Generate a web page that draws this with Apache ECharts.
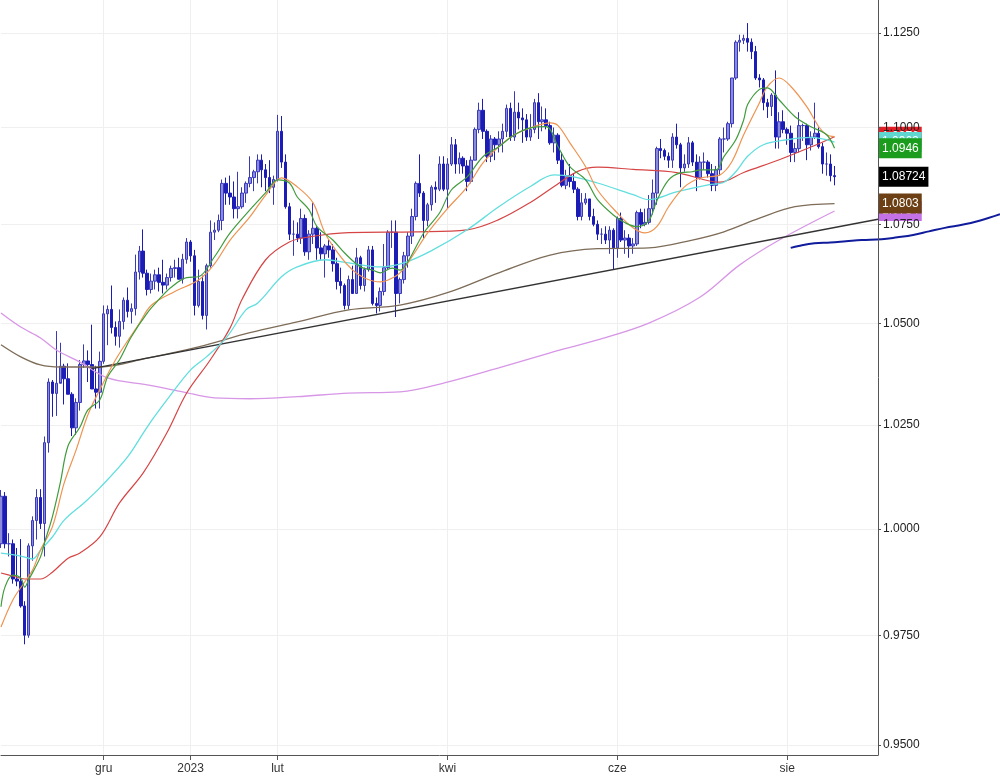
<!DOCTYPE html>
<html><head><meta charset="utf-8">
<script src="https://cdn.jsdelivr.net/npm/echarts@6/dist/echarts.min.js"></script>
<style>html,body{margin:0;padding:0;background:#fff}#c{width:1000px;height:783px}</style>
</head><body><div id="c"></div>
<script>
// ---- data (EUR/USD daily, from 2022-10-26) ----
const startDate = '2022-10-26';
// [open, high, low, close]
const ohlc = [
[0.9965,1.0093,0.9955,1.0078],[1.0078,1.0088,0.9954,0.9965],[0.9965,0.9990,0.9935,0.9965],[0.9965,0.9975,0.9871,0.9882],
[0.9882,0.9955,0.9865,0.9877],[0.9877,0.9976,0.9815,0.9819],[0.9819,0.9830,0.9730,0.9751],[0.9751,0.9966,0.9745,0.9960],
[0.9960,1.0030,0.9925,1.0020],[1.0020,1.0095,0.9975,1.0075],[1.0075,1.0095,1.0000,1.0013],[1.0013,1.0222,0.9935,1.0207],
[1.0207,1.0364,1.0183,1.0355],[1.0355,1.0360,1.0270,1.0327],[1.0327,1.0481,1.0272,1.0352],[1.0352,1.0452,1.0355,1.0394],
[1.0394,1.0400,1.0300,1.0363],[1.0363,1.0401,1.0325,1.0325],[1.0325,1.0330,1.0223,1.0243],[1.0243,1.0315,1.0226,1.0305],
[1.0305,1.0409,1.0285,1.0398],[1.0398,1.0448,1.0390,1.0407],[1.0407,1.0433,1.0355,1.0398],[1.0398,1.0497,1.0340,1.0338],
[1.0338,1.0395,1.0290,1.0330],[1.0330,1.0430,1.0290,1.0406],
[1.0406,1.0545,1.0400,1.0524],[1.0524,1.0545,1.0446,1.0535],[1.0535,1.0595,1.0475,1.0490],[1.0490,1.0505,1.0445,1.0468],
[1.0468,1.0535,1.0440,1.0505],[1.0505,1.0565,1.0485,1.0558],[1.0558,1.0590,1.0515,1.0530],[1.0530,1.0550,1.0500,1.0537],
[1.0537,1.0673,1.0520,1.0629],[1.0629,1.0695,1.0610,1.0682],[1.0682,1.0737,1.0615,1.0626],[1.0626,1.0635,1.0570,1.0585],
[1.0585,1.0625,1.0575,1.0606],[1.0606,1.0635,1.0585,1.0622],[1.0622,1.0640,1.0580,1.0603],[1.0603,1.0660,1.0575,1.0596],
[1.0596,1.0625,1.0585,1.0615],[1.0615,1.0645,1.0605,1.0638],[1.0638,1.0660,1.0615,1.0640],[1.0640,1.0665,1.0610,1.0611],
[1.0611,1.0675,1.0600,1.0661],[1.0661,1.0715,1.0650,1.0705],
[1.0705,1.0710,1.0655,1.0670],[1.0670,1.0685,1.0520,1.0545],[1.0545,1.0635,1.0540,1.0605],[1.0605,1.0620,1.0510,1.0520],
[1.0520,1.0650,1.0485,1.0645],[1.0645,1.0760,1.0640,1.0730],[1.0730,1.0755,1.0710,1.0735],[1.0735,1.0775,1.0730,1.0760],
[1.0760,1.0865,1.0735,1.0855],[1.0855,1.0870,1.0800,1.0830],[1.0830,1.0875,1.0800,1.0820],[1.0820,1.0860,1.0765,1.0790],
[1.0790,1.0885,1.0765,1.0795],[1.0795,1.0845,1.0790,1.0830],[1.0830,1.0860,1.0805,1.0855],[1.0855,1.0925,1.0845,1.0870],
[1.0870,1.0890,1.0835,1.0885],[1.0885,1.0930,1.0855,1.0915],[1.0915,1.0930,1.0845,1.0890],[1.0890,1.0905,1.0835,1.0870],
[1.0870,1.0915,1.0830,1.0845],[1.0845,1.0875,1.0800,1.0865],
[1.0865,1.1033,1.0860,1.0990],[1.0990,1.1030,1.0895,1.0910],[1.0910,1.0930,1.0790,1.0795],[1.0795,1.0805,1.0710,1.0725],
[1.0725,1.0760,1.0670,1.0725],[1.0725,1.0755,1.0705,1.0715],[1.0715,1.0790,1.0700,1.0765],[1.0765,1.0775,1.0670,1.0680],
[1.0680,1.0735,1.0660,1.0725],[1.0725,1.0805,1.0700,1.0740],[1.0740,1.0745,1.0660,1.0690],[1.0690,1.0730,1.0660,1.0675],
[1.0675,1.0700,1.0615,1.0695],[1.0695,1.0710,1.0665,1.0685],[1.0685,1.0700,1.0630,1.0650],[1.0650,1.0665,1.0585,1.0605],
[1.0605,1.0640,1.0575,1.0595],[1.0595,1.0600,1.0535,1.0545],[1.0545,1.0620,1.0535,1.0610],[1.0610,1.0645,1.0575,1.0575],
[1.0575,1.0690,1.0575,1.0665],[1.0665,1.0670,1.0585,1.0595],[1.0595,1.0640,1.0580,1.0635],[1.0635,1.0695,1.0630,1.0685],
[1.0685,1.0695,1.0545,1.0550],[1.0550,1.0565,1.0525,1.0545],[1.0545,1.0590,1.0530,1.0580],[1.0580,1.0700,1.0570,1.0640],
[1.0640,1.0735,1.0635,1.0730],[1.0730,1.0760,1.0690,1.0730],[1.0730,1.0760,1.0516,1.0575],[1.0575,1.0615,1.0550,1.0610],
[1.0610,1.0680,1.0600,1.0670],[1.0670,1.0730,1.0640,1.0720],[1.0720,1.0790,1.0700,1.0770],[1.0770,1.0860,1.0760,1.0855],
[1.0855,1.0930,1.0820,1.0830],[1.0830,1.0835,1.0715,1.0760],[1.0760,1.0805,1.0745,1.0800],[1.0800,1.0850,1.0785,1.0845],
[1.0845,1.0860,1.0805,1.0840],[1.0840,1.0925,1.0835,1.0905],[1.0905,1.0925,1.0835,1.0840],
[1.0840,1.0920,1.0790,1.0905],[1.0905,1.0975,1.0900,1.0955],[1.0955,1.0970,1.0880,1.0905],[1.0905,1.0935,1.0880,1.0920],
[1.0920,1.0925,1.0880,1.0900],[1.0900,1.0915,1.0835,1.0860],[1.0860,1.0925,1.0855,1.0915],[1.0915,1.1000,1.0915,1.0995],
[1.0995,1.1065,1.0985,1.1045],[1.1045,1.1075,1.0970,1.0990],[1.0990,1.0995,1.0910,1.0925],[1.0925,1.0980,1.0910,1.0970],
[1.0970,1.0975,1.0915,1.0955],[1.0955,1.0990,1.0935,1.0970],[1.0970,1.1010,1.0935,1.0990],[1.0990,1.1060,1.0975,1.1050],
[1.1050,1.1065,1.0965,1.0975],[1.0975,1.1095,1.0965,1.1040],[1.1040,1.1065,1.0995,1.1025],[1.1025,1.1050,1.0960,1.1020],
[1.1020,1.1035,1.0965,1.0975],[1.0975,1.1035,1.0965,1.0995],[1.0995,1.1075,1.0985,1.1065],[1.1065,1.1090,1.0970,1.1015],
[1.1015,1.1055,1.0990,1.1020],[1.1020,1.1050,1.0995,1.1005],[1.1005,1.1015,1.0955,1.0960],[1.0960,1.1000,1.0935,1.0980],
[1.0980,1.0985,1.0905,1.0915],[1.0915,1.0935,1.0845,1.0850],[1.0850,1.0890,1.0840,1.0875],[1.0875,1.0905,1.0845,1.0860],
[1.0860,1.0880,1.0830,1.0840],[1.0840,1.0845,1.0760,1.0770],[1.0770,1.0830,1.0760,1.0805],[1.0805,1.0830,1.0800,1.0815],
[1.0815,1.0815,1.0760,1.0770],[1.0770,1.0790,1.0745,1.0750],[1.0750,1.0760,1.0710,1.0725],[1.0725,1.0740,1.0700,1.0725],
[1.0725,1.0745,1.0700,1.0710],[1.0710,1.0745,1.0675,1.0735],[1.0735,1.0740,1.0635,1.0690],
[1.0690,1.0770,1.0665,1.0765],[1.0765,1.0780,1.0705,1.0710],[1.0710,1.0735,1.0675,1.0715],[1.0715,1.0725,1.0665,1.0695],
[1.0695,1.0715,1.0675,1.0700],[1.0700,1.0785,1.0695,1.0780],[1.0780,1.0790,1.0740,1.0750],[1.0750,1.0790,1.0745,1.0755],
[1.0755,1.0825,1.0750,1.0790],[1.0790,1.0865,1.0775,1.0830],[1.0830,1.0950,1.0800,1.0945],[1.0945,1.0970,1.0920,1.0940],
[1.0940,1.0945,1.0915,1.0925],[1.0925,1.0935,1.0895,1.0915],[1.0915,1.0985,1.0895,1.0975],[1.0975,1.1010,1.0945,1.0955],
[1.0955,1.0960,1.0845,1.0895],[1.0895,1.0930,1.0885,1.0905],[1.0905,1.0975,1.0895,1.0960],[1.0960,1.0965,1.0900,1.0910],
[1.0910,1.0930,1.0835,1.0870],[1.0870,1.0925,1.0865,1.0910],
[1.0910,1.0935,1.0890,1.0910],[1.0910,1.0915,1.0870,1.0880],[1.0880,1.0905,1.0835,1.0850],[1.0850,1.0900,1.0835,1.0890],
[1.0890,1.0975,1.0875,1.0970],[1.0970,1.1000,1.0935,1.0970],[1.0970,1.1015,1.0965,1.1010],[1.1010,1.1130,1.1000,1.1130],
[1.1130,1.1230,1.1125,1.1225],[1.1225,1.1245,1.1200,1.1230],[1.1230,1.1245,1.1220,1.1235],[1.1235,1.1276,1.1200,1.1225],
[1.1225,1.1235,1.1180,1.1200],[1.1200,1.1215,1.1125,1.1130],[1.1130,1.1140,1.1105,1.1125],[1.1125,1.1130,1.1045,1.1065],
[1.1065,1.1075,1.1025,1.1055],[1.1055,1.1090,1.1030,1.1085],[1.1085,1.1150,1.0945,1.0975],[1.0975,1.1040,1.0945,1.1015],
[1.1015,1.1045,1.0985,1.0995],
[1.0995,1.1000,1.0955,1.0985],[1.0985,1.1005,1.0910,1.0935],[1.0935,1.0960,1.0910,1.0945],[1.0945,1.1040,1.0935,1.1005],
[1.1005,1.1010,1.0965,1.1005],[1.1005,1.1010,1.0915,1.0955],[1.0955,1.0990,1.0940,1.0975],[1.0975,1.1065,1.0970,1.0985],
[1.0985,1.1000,1.0945,1.0950],[1.0950,1.0960,1.0880,1.0905],[1.0905,1.0935,1.0875,1.0905],[1.0905,1.0930,1.0860,1.0875],
[1.0875,1.0900,1.0850,1.08724]
];
// moving averages: [day index, value]
const maGreen = [[0,0.9817],[1,0.9863],[3,0.9891],[5,0.9884],[6,0.9863],[7,0.9880],[10,0.9934],[11,0.9967],[13,1.0029],[15,1.0110],[17,1.0200],[20,1.0245],[22,1.0287],[25,1.0311],[27,1.0368],[30,1.0410],[33,1.0467],[37,1.0526],[40,1.0560],[43,1.0590],[47,1.0615],[50,1.0617],[54,1.0667],[58,1.0728],[63,1.0787],[67,1.0831],[70,1.0864],[73,1.0856],[75,1.0820],[78,1.0787],[80,1.0744],[84,1.0710],[87,1.0677],[91,1.0642],[94,1.0634],[96,1.0627],[99,1.0639],[101,1.0634],[103,1.0655],[107,1.0728],[111,1.0779],[114,1.0838],[118,1.0872],[122,1.0924],[126,1.0950],[130,1.0981],[134,1.0999],[138,1.1002],[141,1.0950],[144,1.0898],[148,1.0864],[151,1.0813],[155,1.0774],[158,1.0754],[161,1.0744],[164,1.0760],[166,1.0810],[169,1.0864],[172,1.0882],[175,1.0885],[177,1.0890],[181,1.0890],[183,1.0924],[186,1.0968],[188,1.1020],[189,1.1060],[192,1.1100],[194,1.1104],[197,1.1072],[201,1.1028],[205,1.1002],[209,1.0981],[211,1.0946]];
const maOrange = [[0,0.9770],[3,0.9833],[6,0.9875],[8,0.9903],[10,0.9950],[13,1.0005],[16,1.0110],[19,1.0189],[22,1.0275],[25,1.0336],[29,1.0410],[35,1.0500],[38,1.0545],[44,1.0580],[50,1.0609],[54,1.0649],[58,1.0710],[63,1.0769],[67,1.0825],[71,1.0869],[75,1.0846],[79,1.0805],[82,1.0728],[86,1.0667],[89,1.0634],[92,1.0614],[96,1.0604],[98,1.0609],[101,1.0627],[104,1.0667],[108,1.0728],[113,1.0790],[118,1.0846],[122,1.0908],[126,1.0950],[130,1.0981],[134,1.0999],[139,1.1012],[141,1.1005],[144,1.0960],[148,1.0898],[151,1.0838],[156,1.0779],[160,1.0741],[163,1.0728],[166,1.0744],[169,1.0795],[173,1.0846],[177,1.0869],[182,1.0877],[185,1.0911],[188,1.0981],[192,1.1065],[194,1.1107],[197,1.1130],[200,1.1107],[204,1.1054],[207,1.1002],[209,1.0981],[211,1.0976]];
const maCyan = [[0,0.9943],[5,0.9936],[8,0.9929],[10,0.9950],[13,0.9981],[16,1.0021],[21,1.0062],[25,1.0098],[32,1.0172],[37,1.0245],[42,1.0311],[48,1.0385],[52,1.0417],[57,1.0464],[62,1.0534],[65,1.0551],[71,1.0617],[75,1.0642],[82,1.0660],[88,1.0652],[96,1.0642],[102,1.0652],[109,1.0683],[118,1.0736],[126,1.0795],[134,1.0847],[140,1.0877],[145,1.0872],[151,1.0856],[160,1.0826],[164,1.0813],[171,1.0833],[179,1.0851],[183,1.0858],[186,1.0885],[189,1.0925],[193,1.0955],[199,1.0968],[205,1.0974],[211,1.0962]];
const maRed = [[0,0.9896],[3,0.9889],[6,0.9882],[10,0.9882],[13,0.9898],[17,0.9931],[20,0.9943],[25,0.9981],[30,1.0062],[36,1.0134],[42,1.0231],[47,1.0328],[53,1.0410],[58,1.0489],[61,1.0560],[67,1.0660],[73,1.0705],[78,1.0718],[88,1.0729],[105,1.0731],[118,1.0736],[126,1.0762],[134,1.0806],[140,1.0847],[146,1.0886],[151,1.0897],[160,1.0891],[171,1.0883],[182,1.0858],[188,1.0883],[197,1.0916],[205,1.0949],[211,1.0976]];
const maBrown = [[0,1.0447],[5,1.0417],[10,1.0397],[15,1.0392],[25,1.0392],[37,1.0414],[50,1.0442],[63,1.0477],[75,1.0504],[88,1.0534],[101,1.0546],[113,1.0577],[126,1.0627],[139,1.0672],[151,1.0688],[164,1.0690],[175,1.0710],[183,1.0731],[192,1.0766],[201,1.0795],[211,1.0803]];
const maViolet = [[0,1.0526],[5,1.0491],[10,1.0464],[14,1.0434],[20,1.0404],[27,1.0365],[37,1.0348],[46,1.0331],[54,1.0316],[63,1.0314],[75,1.0319],[88,1.0328],[101,1.0331],[113,1.0355],[126,1.0390],[139,1.0427],[151,1.0459],[164,1.0501],[177,1.0566],[187,1.0647],[197,1.0710],[211,1.0784]];
const trendLine = [[23,1.0388],[222,1.0763]];
const handLine = [[200,1.0690],[202,1.0695],[206,1.0702],[210,1.0704],[214,1.0707],[218,1.0710],[223,1.0712],[227,1.0717],[231,1.0723],[235,1.0732],[239,1.0741],[244,1.0750],[248,1.0760],[253,1.0776]];
const yTicks = [0.95,0.975,1.0,1.025,1.05,1.075,1.1,1.125];
const tickDates = ['2022-12-01','2023-01-02','2023-02-01','2023-04-03','2023-06-01','2023-08-01'];
const tickLabels = ['gru','2023','lut','kwi','cze','sie'];
const yMin = 0.94776, yMax = 1.1338;

// ---- build ----
function weekdayList(start, n) {
  const out = []; const d = new Date(start + 'T12:00:00Z');
  while (out.length < n) {
    const w = d.getUTCDay();
    if (w !== 0 && w !== 6) out.push(d.toISOString().slice(0, 10));
    d.setUTCDate(d.getUTCDate() + 1);
  }
  return out;
}
const cats = weekdayList(startDate, ohlc.length + 11);
const catsWide = weekdayList(startDate, 254);
const tickIdx = tickDates.map(d => cats.indexOf(d));
const labelOf = {}; tickDates.forEach((d, i) => labelOf[d] = tickLabels[i]);
const candleData = ohlc.map(r => [r[0], r[3], r[2], r[1]]);
const FONT = 'Liberation Sans, Arial, sans-serif';
const last = a => a[a.length - 1][1];
const TAG_IDX = cats.length; // first slot right of the price axis (wide grid)

function tagSeries(name, value, bg, digits) {
  return {
    name: name + '-tag', type: 'scatter', xAxisIndex: 1, yAxisIndex: 2, z: 12, silent: true,
    symbolSize: 1, itemStyle: { color: 'rgba(0,0,0,0)', opacity: 1 },
    data: [[TAG_IDX, value]],
    label: {
      show: true, position: 'right', distance: -3, opacity: 1,
      formatter: () => value.toFixed(digits),
      color: '#fff', backgroundColor: bg, padding: [4, 3, 3, 3],
      fontSize: 12, fontFamily: FONT, lineHeight: 13
    },
    emphasis: { disabled: true }, animation: false
  };
}
function maSeries(name, data, color, width, z) {
  return {
    name, type: 'line', data, xAxisIndex: 0, yAxisIndex: 0,
    symbol: 'none', smooth: 0.35, z: z,
    lineStyle: { color, width: width }
  };
}

const chart = echarts.init(document.getElementById('c'), null, { renderer: 'canvas' });
chart.setOption({
  animation: false,
  backgroundColor: '#ffffff',
  grid: [
    { left: 1, right: 122, top: 0, bottom: 28, containLabel: false },
    { left: 1, right: 0, top: 0, bottom: 28, containLabel: false }
  ],
  xAxis: [
    {
      type: 'category', data: cats, gridIndex: 0, boundaryGap: false,
      axisLine: { show: true, lineStyle: { color: '#555', width: 1 } },
      axisTick: { show: true, length: 5, interval: (i) => tickIdx.includes(i), lineStyle: { color: '#555' } },
      axisLabel: { show: true, interval: (i) => tickIdx.includes(i), formatter: (v) => labelOf[v] || '', color: '#333', fontSize: 12, fontFamily: FONT, margin: 8 },
      splitLine: { show: true, interval: (i) => tickIdx.includes(i), lineStyle: { color: '#efefef', width: 1 } }
    },
    {
      type: 'category', data: catsWide, gridIndex: 1, boundaryGap: false, show: false
    }
  ],
  yAxis: [
    {
      type: 'log', gridIndex: 0, position: 'right', min: yMin, max: yMax,
      axisLine: { show: false }, axisTick: { show: false, customValues: yTicks }, axisLabel: { show: false, customValues: yTicks },
      splitLine: { show: true, lineStyle: { color: '#efefef', width: 1 } }
    },
    {
      type: 'log', gridIndex: 0, position: 'right', min: yMin, max: yMax, z: 20,
      axisLine: { show: true, lineStyle: { color: '#555', width: 1 } },
      axisTick: { show: true, length: 3, customValues: yTicks, lineStyle: { color: '#555' } },
      axisLabel: { show: true, customValues: yTicks, margin: 5, formatter: (v) => Number(v).toFixed(4), color: '#222', fontSize: 12, fontFamily: FONT },
      splitLine: { show: false }
    },
    {
      type: 'log', gridIndex: 1, min: yMin, max: yMax, show: false, splitLine: { show: false }
    }
  ],
  series: [
    {
      name: 'EUR/USD', type: 'candlestick', data: candleData, xAxisIndex: 0, yAxisIndex: 0, z: 2,
      barWidth: 3,
      itemStyle: { color: '#8b8bdb', color0: '#1c1cb6', borderColor: '#3a3ab8', borderColor0: '#1c1cb6', borderWidth: 1 }
    },
    maSeries('violet', maViolet, '#d796e6', 1.3, 3),
    maSeries('brown', maBrown, '#7d6c58', 1.3, 4),
    { name: 'trend', type: 'line', data: trendLine, xAxisIndex: 0, yAxisIndex: 0, symbol: 'none', z: 5, lineStyle: { color: '#333333', width: 1.4 } },
    maSeries('red', maRed, '#d64545', 1.2, 6),
    maSeries('cyan', maCyan, '#62dede', 1.3, 7),
    maSeries('orange', maOrange, '#ee9350', 1.2, 8),
    maSeries('green', maGreen, '#409c3c', 1.2, 9),
    { name: 'hand', type: 'line', data: handLine, xAxisIndex: 1, yAxisIndex: 2, symbol: 'none', smooth: 0.4, z: 10, lineStyle: { color: '#101c9c', width: 2 } },
    tagSeries('red', last(maRed), '#e41e26', 4),
    tagSeries('cyan', last(maCyan), '#5fd6cf', 4),
    tagSeries('green', last(maGreen), '#1c9c1c', 4),
    tagSeries('close', ohlc[ohlc.length - 1][3], '#000000', 5),
    tagSeries('violet', last(maViolet), '#c470e6', 4),
    tagSeries('brown', last(maBrown), '#6c4014', 4)
  ]
});
</script>
</body></html>
